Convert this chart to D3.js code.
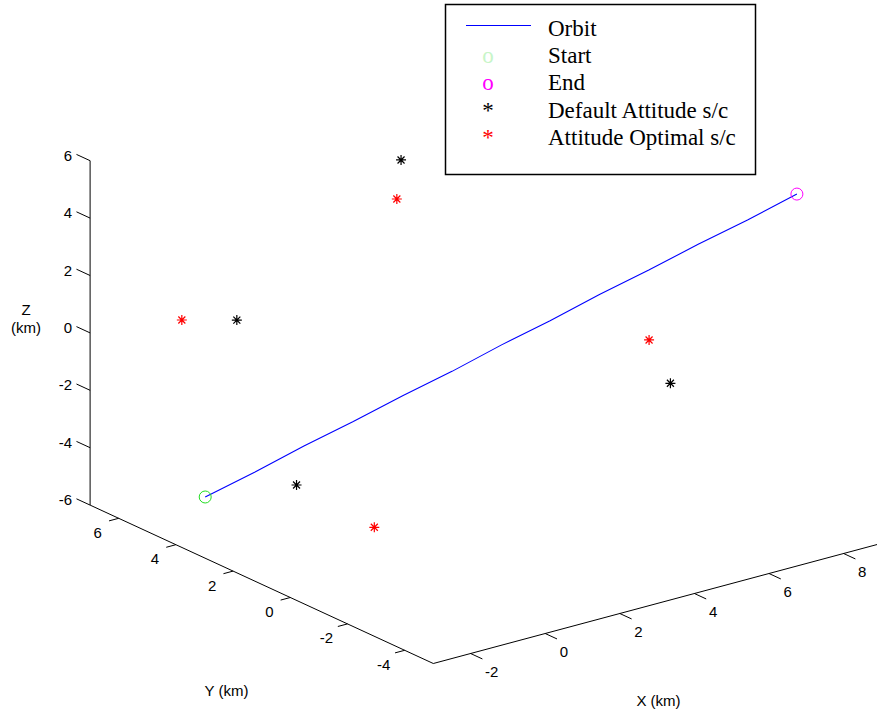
<!DOCTYPE html>
<html>
<head>
<meta charset="utf-8">
<script src="https://cdn.jsdelivr.net/npm/d3@7"></script>
<style>
  body { margin: 0; background: #fff; }
  svg { display: block; }
</style>
</head>
<body>
<svg width="877" height="715"></svg>
<script>
// axis limits and ticks (km)
const xLim = [-3, 9], yLim = [-5, 7], zLim = [-6, 6];

// orbit path: x, y, z
const orbitX = [-0.75, -0.04, 0.67, 1.38, 2.09, 2.80, 3.51, 4.21, 4.92, 5.63, 6.34, 7.05, 7.76];
const orbitY = [5.91, 5.11, 4.31, 3.51, 2.71, 1.91, 1.12, 0.32, -0.48, -1.28, -2.08, -2.88, -3.68];
const orbitZ = [-6.00, -5.02, -3.98, -3.01, -1.99, -1.02, 0.01, 0.98, 2.02, 2.99, 4.01, 4.98, 6.00];

// spacecraft positions
const defaultX = [2.30, -0.04, 4.99, -0.87];
const defaultY = [3.04, 5.73, -2.87, 2.56];
const defaultZ = [6.0, 0.0, 0.0, -4.0];

const optimalX = [1.85, -0.97, 6.22, -0.05];
const optimalY = [2.60, 6.44, -0.52, 0.91];
const optimalZ = [5.0, 0.0, 0.0, -5.0];

const legendLabels = ["Orbit", "Start", "End", "Default Attitude s/c", "Attitude Optimal s/c"];

const svg = d3.select("svg");

// each axis scale runs 0..1 along its edge of the box
const xS = d3.scaleLinear().domain(xLim).range([0, 1]);
const yS = d3.scaleLinear().domain(yLim).range([0, 1]);
const zS = d3.scaleLinear().domain(zLim).range([0, 1]);

// screen vectors for the view (MATLAB style 3d view)
const origin = [433.3, 663.5];
const vx = [447.6, -120], vy = [-343.2, -158.4], vz = [0, -344.4];

function proj(x, y, z) {
    const a = xS(x), b = yS(y), c = zS(z);
    return [origin[0] + a * vx[0] + b * vy[0] + c * vz[0],
            origin[1] + a * vx[1] + b * vy[1] + c * vz[1]];
}

function unit(v) { const l = Math.hypot(v[0], v[1]); return [v[0] / l, v[1] / l]; }

const axisG = svg.append("g").attr("stroke", "#000").attr("stroke-width", 1).attr("fill", "none");
const labG = svg.append("g").attr("font-family", "'Liberation Sans', Arial, sans-serif")
    .attr("font-size", "15px").attr("fill", "#000");

// axis lines
const lineFn = d3.line();
axisG.append("path").attr("d", lineFn([proj(xLim[0], yLim[1], zLim[0]), proj(xLim[0], yLim[1], zLim[1])]));
axisG.append("path").attr("d", lineFn([proj(xLim[0], yLim[1], zLim[0]), proj(xLim[0], yLim[0], zLim[0])]));
axisG.append("path").attr("d", lineFn([proj(xLim[0], yLim[0], zLim[0]), proj(xLim[1], yLim[0], zLim[0])]));

// Z ticks: point toward +y
const zDir = unit(vy);
zS.ticks(6).forEach(t => {
    const p = proj(xLim[0], yLim[1], t);
    axisG.append("path").attr("d", lineFn([p, [p[0] + zDir[0] * 15, p[1] + zDir[1] * 15]]));
    labG.append("text").attr("x", 72).attr("y", p[1] - 5.5)
        .attr("text-anchor", "end").attr("dominant-baseline", "central").text(t);
});

// Y ticks: point toward -x
const yDir = unit([-vx[0], -vx[1]]);
yS.ticks(6).forEach(t => {
    const p = proj(xLim[0], t, zLim[0]);
    axisG.append("path").attr("d", lineFn([p, [p[0] + yDir[0] * 10, p[1] + yDir[1] * 10]]));
    labG.append("text").attr("x", p[0] - 21).attr("y", p[1] + 14)
        .attr("text-anchor", "middle").attr("dominant-baseline", "central").text(t);
});

// X ticks: point toward -y
const xDir = unit([-vy[0], -vy[1]]);
xS.ticks(6).forEach(t => {
    const p = proj(t, yLim[0], zLim[0]);
    axisG.append("path").attr("d", lineFn([p, [p[0] + xDir[0] * 13, p[1] + xDir[1] * 13]]));
    labG.append("text").attr("x", p[0] + 14.5).attr("y", p[1] + 17.5)
        .attr("dominant-baseline", "central").text(t);
});

// axis titles
labG.append("text").attr("x", 26).attr("y", 309).attr("text-anchor", "middle")
    .attr("dominant-baseline", "central").text("Z");
labG.append("text").attr("x", 26).attr("y", 327).attr("text-anchor", "middle")
    .attr("dominant-baseline", "central").text("(km)");
labG.append("text").attr("x", 226.5).attr("y", 690).attr("text-anchor", "middle")
    .attr("dominant-baseline", "central").text("Y (km)");
labG.append("text").attr("x", 658.5).attr("y", 700).attr("text-anchor", "middle")
    .attr("dominant-baseline", "central").text("X (km)");

// orbit
const orbitPts = orbitX.map((x, i) => proj(x, orbitY[i], orbitZ[i]));
svg.append("path").attr("d", lineFn(orbitPts))
    .attr("fill", "none").attr("stroke", "#0000ff").attr("stroke-width", 1.1);

// start / end circles
const startP = orbitPts[0], endP = orbitPts[orbitPts.length - 1];
svg.append("circle").attr("cx", startP[0]).attr("cy", startP[1]).attr("r", 6)
    .attr("fill", "none").attr("stroke", "#22dd22").attr("stroke-width", 1);
svg.append("circle").attr("cx", endP[0]).attr("cy", endP[1]).attr("r", 6)
    .attr("fill", "none").attr("stroke", "#ff00ff").attr("stroke-width", 1);

// asterisk marker
function star(p, r) {
    const d = r * 0.7;
    return `M${p[0] - r},${p[1]}L${p[0] + r},${p[1]}M${p[0]},${p[1] - r}L${p[0]},${p[1] + r}` +
        `M${p[0] - d},${p[1] - d}L${p[0] + d},${p[1] + d}M${p[0] - d},${p[1] + d}L${p[0] + d},${p[1] - d}`;
}

svg.append("g").selectAll("path").data(defaultX.map((x, i) => proj(x, defaultY[i], defaultZ[i])))
    .join("path").attr("d", d => star(d, 5)).attr("stroke", "#000").attr("stroke-width", 1.2);
svg.append("g").selectAll("path").data(optimalX.map((x, i) => proj(x, optimalY[i], optimalZ[i])))
    .join("path").attr("d", d => star(d, 5)).attr("stroke", "#ff0000").attr("stroke-width", 1.2);

// legend
const leg = svg.append("g").attr("transform", "translate(445,4)");
leg.append("rect").attr("x", 0.5).attr("y", 0.5).attr("width", 310).attr("height", 170)
    .attr("fill", "#fff").attr("stroke", "#000").attr("stroke-width", 1.5);
const rowY = i => 32 + i * 27.2;
leg.append("line").attr("x1", 21).attr("x2", 86).attr("y1", 21.5).attr("y2", 21.5)
    .attr("stroke", "#0000ff").attr("stroke-width", 1.2);
const glyphs = [null, {t: "o", c: "#c8f5c8"}, {t: "o", c: "#ff00ff"}, {t: "*", c: "#000"}, {t: "*", c: "#ff0000"}];
leg.selectAll("text.g").data(glyphs.filter(g => g)).join("text")
    .attr("x", 43).attr("y", (d, i) => rowY(i + 1))
    .attr("text-anchor", "middle").attr("font-family", "'Liberation Serif', 'Times New Roman', serif")
    .attr("font-size", "23px").attr("fill", d => d.c).text(d => d.t);
leg.selectAll("text.l").data(legendLabels).join("text")
    .attr("x", 103).attr("y", (d, i) => rowY(i))
    .attr("font-family", "'Liberation Serif', 'Times New Roman', serif")
    .attr("font-size", "23px").attr("fill", "#000").text(d => d);
</script>
</body>
</html>
